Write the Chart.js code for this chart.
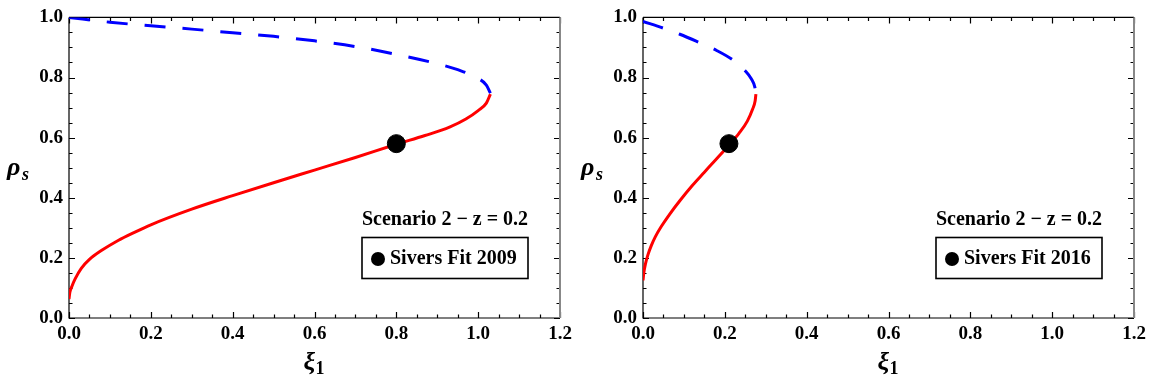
<!DOCTYPE html>
<html>
<head>
<meta charset="utf-8">
<script src="https://cdn.jsdelivr.net/npm/chart.js@4/dist/chart.umd.min.js"></script>
<style>
  html, body { margin: 0; padding: 0; background: #fff; font-family: "Liberation Serif", "Times New Roman", serif; }
  .panel { position: absolute; top: 0; }
</style>
</head>
<body>
<div class="panel" style="left:0px"><canvas id="fit2009" width="577" height="385"></canvas></div>
<div class="panel" style="left:577px"><canvas id="fit2016" width="578" height="385"></canvas></div>
<script>
// Sivers fit 2009 - lower (solid red) and upper (dashed blue) branch
var xi09Red = [0, 0.002, 0.007, 0.015, 0.03, 0.05, 0.08, 0.12, 0.16, 0.2, 0.3, 0.4, 0.5, 0.6, 0.7, 0.8, 0.87, 0.93, 0.97, 1.0, 1.02, 1.03];
var rho09Red = [0.063, 0.085, 0.105, 0.13, 0.165, 0.195, 0.225, 0.258, 0.285, 0.31, 0.362, 0.407, 0.45, 0.492, 0.534, 0.578, 0.607, 0.635, 0.662, 0.69, 0.715, 0.745];
var xi09Blue = [0, 0.1, 0.2, 0.3, 0.4, 0.5, 0.6, 0.7, 0.8, 0.9, 0.95, 1.0, 1.02, 1.03];
var rho09Blue = [1.0, 0.984, 0.972, 0.961, 0.949, 0.937, 0.922, 0.903, 0.877, 0.846, 0.826, 0.797, 0.775, 0.748];
var fit09 = [0.80, 0.58];

// Sivers fit 2016
var xi16Red = [0, 0.002, 0.006, 0.012, 0.02, 0.03, 0.045, 0.065, 0.09, 0.12, 0.15, 0.18, 0.21, 0.235, 0.255, 0.268, 0.274, 0.276];
var rho16Red = [0.125, 0.15, 0.18, 0.21, 0.24, 0.27, 0.305, 0.345, 0.39, 0.44, 0.485, 0.53, 0.575, 0.615, 0.655, 0.695, 0.722, 0.745];
var xi16Blue = [0, 0.05, 0.09, 0.13, 0.18, 0.22, 0.25, 0.265, 0.273, 0.276];
var rho16Blue = [0.987, 0.964, 0.944, 0.921, 0.89, 0.858, 0.822, 0.795, 0.77, 0.748];
var fit16 = [0.21, 0.58];

var xTicks = [0, 0.2, 0.4, 0.6, 0.8, 1.0, 1.2];
var yTicks = [0, 0.2, 0.4, 0.6, 0.8, 1.0];
var scenarioLabel = "Scenario 2 \u2212 z = 0.2";

var serif = '"Liberation Serif", "Times New Roman", serif';

function toPoints(xs, ys) {
    var pts = [];
    for (var i = 0; i < xs.length; i++) {
        pts.push({x: xs[i], y: ys[i]});
    }
    return pts;
}

// frame with inward ticks on all four sides, like a Mathematica Frame
var framePlugin = {
    id: 'frame',
    beforeDatasetsDraw: function(chart) {
        var ctx = chart.ctx;
        var a = chart.chartArea;
        var xs = chart.scales.x, ys = chart.scales.y;
        ctx.save();
        ctx.lineWidth = 1.2;
        ctx.strokeStyle = '#000';
        var v, p, len;
        for (var i = 0; i <= 24; i++) {
            v = i * 0.05;
            p = Math.round(xs.getPixelForValue(v)) + 0.5;
            len = (i % 4 == 0) ? 6 : 3.5;
            ctx.beginPath();
            ctx.moveTo(p, a.bottom); ctx.lineTo(p, a.bottom - len);
            ctx.moveTo(p, a.top); ctx.lineTo(p, a.top + len);
            ctx.stroke();
        }
        for (var j = 0; j <= 20; j++) {
            v = j * 0.05;
            p = Math.round(ys.getPixelForValue(v)) + 0.5;
            len = (j % 4 == 0) ? 6 : 3.5;
            ctx.beginPath();
            ctx.moveTo(a.left, p); ctx.lineTo(a.left + len, p);
            ctx.moveTo(a.right, p); ctx.lineTo(a.right - len, p);
            ctx.stroke();
        }
        ctx.beginPath();
        ctx.moveTo(a.left, a.top); ctx.lineTo(a.right, a.top);
        ctx.moveTo(a.left, a.top); ctx.lineTo(a.left, a.bottom);
        ctx.lineTo(a.right, a.bottom);
        ctx.stroke();
        ctx.strokeStyle = '#888';
        ctx.lineWidth = 2;
        ctx.beginPath();
        ctx.moveTo(a.right, a.top); ctx.lineTo(a.right, a.bottom);
        ctx.stroke();
        ctx.restore();
    }
};

var textPlugin = {
    id: 'texts',
    afterDraw: function(chart) {
        var ctx = chart.ctx;
        var a = chart.chartArea;
        var o = chart.options.plugins.texts;
        ctx.save();
        ctx.fillStyle = '#000';
        ctx.textBaseline = 'middle';

        // axis titles
        ctx.font = 'italic bold 26px ' + serif;
        ctx.textAlign = 'left';
        ctx.fillText('\u03c1', a.left - 62, 168);
        ctx.font = 'italic bold 18px ' + serif;
        ctx.fillText('s', a.left - 47, 175);
        var cx = (a.left + a.right) / 2;
        ctx.font = 'italic bold 26px ' + serif;
        ctx.fillText('\u03be', cx - 11, 363);
        ctx.font = 'bold 18px ' + serif;
        ctx.fillText('1', cx + 1, 369);

        // scenario label and legend box
        ctx.font = 'bold 20px ' + serif;
        ctx.textAlign = 'center';
        ctx.fillText(scenarioLabel, a.right - 115, 220);
        ctx.lineWidth = 1.6;
        ctx.strokeRect(a.right - 198, 237.5, 166, 41);
        ctx.beginPath();
        ctx.arc(a.right - 182, 259, 7, 0, Math.PI * 2);
        ctx.fill();
        ctx.textAlign = 'left';
        ctx.fillText(o.legend, a.right - 170, 259);
        ctx.restore();
    }
};

function makePanel(id, redX, redY, blueX, blueY, fit, axisWidth, padRight, legendText) {
    var ctx = document.getElementById(id).getContext('2d');
    return new Chart(ctx, {
        type: 'scatter',
        data: {
            datasets: [
                {
                    label: 'lower',
                    data: toPoints(redX, redY),
                    showLine: true,
                    borderColor: '#ff0000',
                    borderWidth: 3,
                    pointRadius: 0,
                    cubicInterpolationMode: 'monotone',
                    order: 3
                },
                {
                    label: 'upper',
                    data: toPoints(blueX, blueY),
                    showLine: true,
                    borderColor: '#0000ff',
                    borderWidth: 3,
                    borderDash: [21, 17],
                    pointRadius: 0,
                    cubicInterpolationMode: 'monotone',
                    order: 2
                },
                {
                    label: legendText,
                    data: [{x: fit[0], y: fit[1]}],
                    backgroundColor: '#000',
                    borderColor: '#000',
                    pointRadius: 9,
                    order: 1
                }
            ]
        },
        options: {
            responsive: false,
            animation: false,
            layout: {
                padding: {top: 15, right: padRight, left: 0, bottom: 0}
            },
            plugins: {
                legend: {display: false},
                tooltip: {enabled: false},
                texts: {legend: legendText}
            },
            scales: {
                x: {
                    type: 'linear',
                    min: 0,
                    max: 1.2,
                    afterBuildTicks: function(s) { s.ticks = xTicks.map(function(v) { return {value: v}; }); },
                    afterFit: function(s) { s.height = 67; },
                    grid: {display: false, drawTicks: false},
                    border: {display: false},
                    ticks: {
                        padding: 5,
                        color: '#000',
                        font: {family: serif, size: 19, weight: 'bold'},
                        maxRotation: 0,
                        callback: function(v) { return v.toFixed(1); }
                    }
                },
                y: {
                    type: 'linear',
                    min: 0,
                    max: 1.0,
                    afterBuildTicks: function(s) { s.ticks = yTicks.map(function(v) { return {value: v}; }); },
                    afterFit: function(s) { s.width = axisWidth; },
                    grid: {display: false, drawTicks: false},
                    border: {display: false},
                    ticks: {
                        padding: 6,
                        color: '#000',
                        font: {family: serif, size: 19, weight: 'bold'},
                        callback: function(v) { return v.toFixed(1); }
                    }
                }
            }
        },
        plugins: [framePlugin, textPlugin]
    });
}

function build() {
    makePanel('fit2009', xi09Red, rho09Red, xi09Blue, rho09Blue, fit09, 69, 17, 'Sivers Fit 2009');
    makePanel('fit2016', xi16Red, rho16Red, xi16Blue, rho16Blue, fit16, 66, 21, 'Sivers Fit 2016');
}

Promise.all([
    document.fonts.load('bold 19px "Liberation Serif"'),
    document.fonts.load('italic bold 26px "Liberation Serif"')
]).then(build, build);
</script>
</body>
</html>
